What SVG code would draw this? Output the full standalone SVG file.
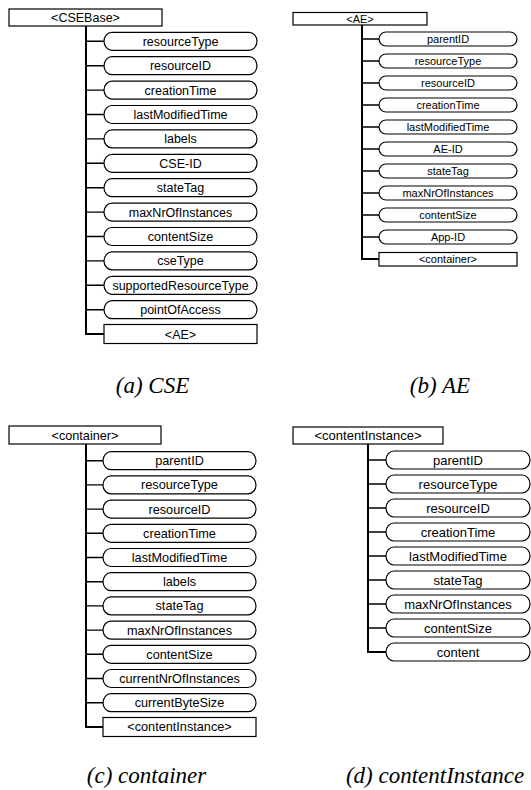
<svg xmlns="http://www.w3.org/2000/svg" width="531" height="790" viewBox="0 0 531 790">
<style>
.bg{fill:#fff}
.box{fill:#fff;stroke:#000;stroke-width:1.2}
.pill{fill:#fff;stroke:#000;stroke-width:1.2}
.t{font-family:"Liberation Sans",Arial,sans-serif;fill:#000;text-anchor:middle}
.ta{font-size:12.5px}
.tb{font-size:11px}
.tc{font-size:12.7px}
.td{font-size:13px}
.cap{font-family:"Liberation Serif","Times New Roman",serif;font-style:italic;font-size:23px;fill:#000;text-anchor:middle}
.trunk{stroke:#000;stroke-width:2;fill:none}
.stub{stroke:#000;stroke-width:1.4;fill:none}
</style>
<rect class="bg" x="0" y="0" width="531" height="790"/>

<g id="connectors">
  <!-- (a) -->
  <path class="trunk" d="M86,26 V334 H104"/>
  <path class="stub" d="M86,41.3H104 M86,65.7H104 M86,90.1H104 M86,114.5H104 M86,138.9H104 M86,163.3H104 M86,187.7H104 M86,212.1H104 M86,236.5H104 M86,260.9H104 M86,285.3H104 M86,309.7H104"/>
  <!-- (b) -->
  <path class="trunk" d="M362,25 V259 H379"/>
  <path class="stub" d="M362,39H379 M362,61H379 M362,83H379 M362,105H379 M362,127H379 M362,149H379 M362,171H379 M362,193H379 M362,215H379 M362,237H379"/>
  <!-- (c) -->
  <path class="trunk" d="M86,444 V727 H103"/>
  <path class="stub" d="M86,460.7H103 M86,484.9H103 M86,509.1H103 M86,533.3H103 M86,557.5H103 M86,581.7H103 M86,605.9H103 M86,630.1H103 M86,654.3H103 M86,678.5H103 M86,702.7H103"/>
  <!-- (d) -->
  <path class="trunk" d="M368,444 V652 H386"/>
  <path class="stub" d="M368,460H386 M368,484H386 M368,508H386 M368,532H386 M368,556H386 M368,580H386 M368,604H386 M368,628H386"/>
</g>

<!-- ===== (a) CSE ===== -->
<g id="a-CSEBase"><rect class="box" x="9" y="9" width="153" height="17"/><text class="t ta" x="85.5" y="22">&lt;CSEBase&gt;</text></g>
<g id="a-resourceType"><rect class="pill" x="104" y="32.3" width="153" height="18" rx="8" ry="9"/><text class="t ta" x="180.5" y="45.7">resourceType</text></g>
<g id="a-resourceID"><rect class="pill" x="104" y="56.7" width="153" height="18" rx="8" ry="9"/><text class="t ta" x="180.5" y="70.1">resourceID</text></g>
<g id="a-creationTime"><rect class="pill" x="104" y="81.1" width="153" height="18" rx="8" ry="9"/><text class="t ta" x="180.5" y="94.5">creationTime</text></g>
<g id="a-lastModifiedTime"><rect class="pill" x="104" y="105.5" width="153" height="18" rx="8" ry="9"/><text class="t ta" x="180.5" y="118.9">lastModifiedTime</text></g>
<g id="a-labels"><rect class="pill" x="104" y="129.9" width="153" height="18" rx="8" ry="9"/><text class="t ta" x="180.5" y="143.3">labels</text></g>
<g id="a-CSE-ID"><rect class="pill" x="104" y="154.3" width="153" height="18" rx="8" ry="9"/><text class="t ta" x="180.5" y="167.7">CSE-ID</text></g>
<g id="a-stateTag"><rect class="pill" x="104" y="178.7" width="153" height="18" rx="8" ry="9"/><text class="t ta" x="180.5" y="192.1">stateTag</text></g>
<g id="a-maxNrOfInstances"><rect class="pill" x="104" y="203.1" width="153" height="18" rx="8" ry="9"/><text class="t ta" x="180.5" y="216.5">maxNrOfInstances</text></g>
<g id="a-contentSize"><rect class="pill" x="104" y="227.5" width="153" height="18" rx="8" ry="9"/><text class="t ta" x="180.5" y="240.9">contentSize</text></g>
<g id="a-cseType"><rect class="pill" x="104" y="251.9" width="153" height="18" rx="8" ry="9"/><text class="t ta" x="180.5" y="265.3">cseType</text></g>
<g id="a-supportedResourceType"><rect class="pill" x="104" y="276.3" width="153" height="18" rx="8" ry="9"/><text class="t ta" x="180.5" y="289.7">supportedResourceType</text></g>
<g id="a-pointOfAccess"><rect class="pill" x="104" y="300.7" width="153" height="18" rx="8" ry="9"/><text class="t ta" x="180.5" y="314.1">pointOfAccess</text></g>
<g id="a-AE"><rect class="box" x="104" y="324.5" width="153" height="19"/><text class="t ta" x="180.5" y="338.5">&lt;AE&gt;</text></g>
<text class="cap" x="152.5" y="393">(a) CSE</text>

<!-- ===== (b) AE ===== -->
<g id="b-AE"><rect class="box" x="293" y="12.5" width="134" height="12.5"/><text class="t tb" x="360" y="22.5">&lt;AE&gt;</text></g>
<g id="b-parentID"><rect class="pill" x="379" y="32" width="138" height="14" rx="7" ry="7"/><text class="t tb" x="448" y="42.8">parentID</text></g>
<g id="b-resourceType"><rect class="pill" x="379" y="54" width="138" height="14" rx="7" ry="7"/><text class="t tb" x="448" y="64.8">resourceType</text></g>
<g id="b-resourceID"><rect class="pill" x="379" y="76" width="138" height="14" rx="7" ry="7"/><text class="t tb" x="448" y="86.8">resourceID</text></g>
<g id="b-creationTime"><rect class="pill" x="379" y="98" width="138" height="14" rx="7" ry="7"/><text class="t tb" x="448" y="108.8">creationTime</text></g>
<g id="b-lastModifiedTime"><rect class="pill" x="379" y="120" width="138" height="14" rx="7" ry="7"/><text class="t tb" x="448" y="130.8">lastModifiedTime</text></g>
<g id="b-AE-ID"><rect class="pill" x="379" y="142" width="138" height="14" rx="7" ry="7"/><text class="t tb" x="448" y="152.8">AE-ID</text></g>
<g id="b-stateTag"><rect class="pill" x="379" y="164" width="138" height="14" rx="7" ry="7"/><text class="t tb" x="448" y="174.8">stateTag</text></g>
<g id="b-maxNrOfInstances"><rect class="pill" x="379" y="186" width="138" height="14" rx="7" ry="7"/><text class="t tb" x="448" y="196.8">maxNrOfInstances</text></g>
<g id="b-contentSize"><rect class="pill" x="379" y="208" width="138" height="14" rx="7" ry="7"/><text class="t tb" x="448" y="218.8">contentSize</text></g>
<g id="b-App-ID"><rect class="pill" x="379" y="230" width="138" height="14" rx="7" ry="7"/><text class="t tb" x="448" y="240.8">App-ID</text></g>
<g id="b-container"><rect class="box" x="379" y="252.5" width="138" height="13.5"/><text class="t tb" x="448" y="263">&lt;container&gt;</text></g>
<text class="cap" x="440" y="393">(b) AE</text>

<!-- ===== (c) container ===== -->
<g id="c-container"><rect class="box" x="9" y="426" width="152" height="18"/><text class="t tc" x="85" y="439.5">&lt;container&gt;</text></g>
<g id="c-parentID"><rect class="pill" x="103" y="451.7" width="153" height="18" rx="8" ry="9"/><text class="t tc" x="179.5" y="465.2">parentID</text></g>
<g id="c-resourceType"><rect class="pill" x="103" y="475.9" width="153" height="18" rx="8" ry="9"/><text class="t tc" x="179.5" y="489.4">resourceType</text></g>
<g id="c-resourceID"><rect class="pill" x="103" y="500.1" width="153" height="18" rx="8" ry="9"/><text class="t tc" x="179.5" y="513.6">resourceID</text></g>
<g id="c-creationTime"><rect class="pill" x="103" y="524.3" width="153" height="18" rx="8" ry="9"/><text class="t tc" x="179.5" y="537.8">creationTime</text></g>
<g id="c-lastModifiedTime"><rect class="pill" x="103" y="548.5" width="153" height="18" rx="8" ry="9"/><text class="t tc" x="179.5" y="562">lastModifiedTime</text></g>
<g id="c-labels"><rect class="pill" x="103" y="572.7" width="153" height="18" rx="8" ry="9"/><text class="t tc" x="179.5" y="586.2">labels</text></g>
<g id="c-stateTag"><rect class="pill" x="103" y="596.9" width="153" height="18" rx="8" ry="9"/><text class="t tc" x="179.5" y="610.4">stateTag</text></g>
<g id="c-maxNrOfInstances"><rect class="pill" x="103" y="621.1" width="153" height="18" rx="8" ry="9"/><text class="t tc" x="179.5" y="634.6">maxNrOfInstances</text></g>
<g id="c-contentSize"><rect class="pill" x="103" y="645.3" width="153" height="18" rx="8" ry="9"/><text class="t tc" x="179.5" y="658.8">contentSize</text></g>
<g id="c-currentNrOfInstances"><rect class="pill" x="103" y="669.5" width="153" height="18" rx="8" ry="9"/><text class="t tc" x="179.5" y="683">currentNrOfInstances</text></g>
<g id="c-currentByteSize"><rect class="pill" x="103" y="693.7" width="153" height="18" rx="8" ry="9"/><text class="t tc" x="179.5" y="707.2">currentByteSize</text></g>
<g id="c-contentInstance"><rect class="box" x="103" y="717.5" width="153" height="19"/><text class="t tc" x="179.5" y="731.4">&lt;contentInstance&gt;</text></g>
<text class="cap" x="146.5" y="783">(c) container</text>

<!-- ===== (d) contentInstance ===== -->
<g id="d-contentInstance"><rect class="box" x="293" y="427" width="150" height="17"/><text class="t td" x="368" y="440.3">&lt;contentInstance&gt;</text></g>
<g id="d-parentID"><rect class="pill" x="386" y="451" width="144" height="18" rx="8" ry="9"/><text class="t td" x="458" y="464.6">parentID</text></g>
<g id="d-resourceType"><rect class="pill" x="386" y="475" width="144" height="18" rx="8" ry="9"/><text class="t td" x="458" y="488.6">resourceType</text></g>
<g id="d-resourceID"><rect class="pill" x="386" y="499" width="144" height="18" rx="8" ry="9"/><text class="t td" x="458" y="512.6">resourceID</text></g>
<g id="d-creationTime"><rect class="pill" x="386" y="523" width="144" height="18" rx="8" ry="9"/><text class="t td" x="458" y="536.6">creationTime</text></g>
<g id="d-lastModifiedTime"><rect class="pill" x="386" y="547" width="144" height="18" rx="8" ry="9"/><text class="t td" x="458" y="560.6">lastModifiedTime</text></g>
<g id="d-stateTag"><rect class="pill" x="386" y="571" width="144" height="18" rx="8" ry="9"/><text class="t td" x="458" y="584.6">stateTag</text></g>
<g id="d-maxNrOfInstances"><rect class="pill" x="386" y="595" width="144" height="18" rx="8" ry="9"/><text class="t td" x="458" y="608.6">maxNrOfInstances</text></g>
<g id="d-contentSize"><rect class="pill" x="386" y="619" width="144" height="18" rx="8" ry="9"/><text class="t td" x="458" y="632.6">contentSize</text></g>
<g id="d-content"><rect class="pill" x="386" y="643" width="144" height="18" rx="8" ry="9"/><text class="t td" x="458" y="656.6">content</text></g>
<text class="cap" x="435" y="783">(d) contentInstance</text>
</svg>
